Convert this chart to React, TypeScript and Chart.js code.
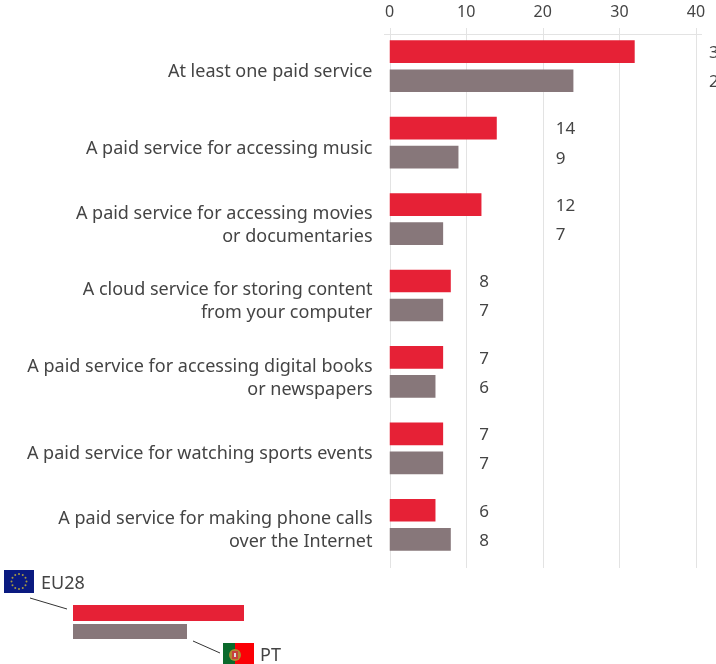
import React, { useEffect, useRef } from "react";
import { Chart, registerables } from "chart.js";

Chart.register(...registerables);

const categories: (string | string[])[] = [
  "At least one paid service",
  "A paid service for accessing music",
  ["A paid service for accessing movies", "or documentaries"],
  ["A cloud service for storing content", "from your computer"],
  ["A paid service for accessing digital books", "or newspapers"],
  "A paid service for watching sports events",
  ["A paid service for making phone calls", "over the Internet"],
];
const eu28 = [32, 14, 12, 8, 7, 7, 6];
const pt = [24, 9, 7, 7, 6, 7, 8];
const xTicks = [0, 10, 20, 30, 40];
const legendEU = "EU28";
const legendPT = "PT";

const RED = "#e62136";
const GREY = "#87777a";
const TEXT = "#444444";
const GRID = "#e3e3e3";
const FONT = "'Noto Sans', sans-serif";

const overlay = {
  id: "overlay",
  beforeDatasetsDraw(chart: any) {
    const ctx = chart.ctx;
    const x = chart.scales.x;
    ctx.save();
    ctx.strokeStyle = GRID;
    ctx.lineWidth = 1;
    for (const t of xTicks) {
      const px = Math.round(x.getPixelForValue(t)) + 0.5;
      ctx.beginPath();
      ctx.moveTo(px, 28);
      ctx.lineTo(px, 568);
      ctx.stroke();
    }
    ctx.beginPath();
    ctx.moveTo(384, 34.5);
    ctx.lineTo(702, 34.5);
    ctx.stroke();
    ctx.restore();
  },
  afterDatasetsDraw(chart: any) {
    const ctx = chart.ctx;
    const x = chart.scales.x;
    ctx.save();
    ctx.fillStyle = TEXT;
    ctx.font = `17px ${FONT}`;
    ctx.textAlign = "left";
    ctx.textBaseline = "middle";
    chart.data.datasets.forEach((ds: any, di: number) => {
      const meta = chart.getDatasetMeta(di);
      ds.data.forEach((v: number, i: number) => {
        const top = Math.max(eu28[i], pt[i]);
        const bucket = Math.ceil(top / 10) * 10;
        ctx.fillText(String(v), x.getPixelForValue(bucket + 1.7), meta.data[i].y + 1.5);
      });
    });

    // legend key
    ctx.fillStyle = RED;
    ctx.fillRect(73, 605, 171, 16);
    ctx.fillStyle = GREY;
    ctx.fillRect(73, 624, 114, 15);
    ctx.strokeStyle = "#333";
    ctx.lineWidth = 1;
    ctx.beginPath();
    ctx.moveTo(30, 598);
    ctx.lineTo(67, 609);
    ctx.moveTo(193, 641);
    ctx.lineTo(220, 653);
    ctx.stroke();

    // EU flag
    ctx.fillStyle = "#0a1a80";
    ctx.fillRect(4, 570, 30, 23);
    ctx.fillStyle = "#a89a40";
    for (let i = 0; i < 12; i++) {
      const a = (i * Math.PI) / 6;
      ctx.beginPath();
      ctx.arc(19 + 7.5 * Math.cos(a), 581.5 + 7.5 * Math.sin(a), 1, 0, Math.PI * 2);
      ctx.fill();
    }
    // PT flag
    ctx.fillStyle = "#0b6a2c";
    ctx.fillRect(223, 643, 12, 21);
    ctx.fillStyle = "#fb0006";
    ctx.fillRect(235, 643, 19, 21);
    ctx.fillStyle = "#b08a30";
    ctx.beginPath();
    ctx.arc(235, 655, 6, 0, Math.PI * 2);
    ctx.fill();
    ctx.fillStyle = "#c8403c";
    ctx.fillRect(232, 651, 6, 8);
    ctx.fillStyle = "#ddd";
    ctx.fillRect(234, 653, 2, 4);

    ctx.fillStyle = TEXT;
    ctx.font = `18px ${FONT}`;
    ctx.fillText(legendEU, 41, 584);
    ctx.fillText(legendPT, 260, 656);
    ctx.restore();
  },
};

export default function App() {
  const ref = useRef<HTMLCanvasElement>(null);
  useEffect(() => {
    document.body.style.margin = "0";
    const chart = new Chart(ref.current!, {
      type: "bar",
      data: {
        labels: categories as any,
        datasets: [
          { label: legendEU, data: eu28, backgroundColor: RED },
          { label: legendPT, data: pt, backgroundColor: GREY },
        ],
      },
      options: {
        indexAxis: "y",
        animation: false,
        responsive: false,
        layout: { padding: { left: 0, top: 0, right: 20, bottom: 101 } },
        datasets: { bar: { categoryPercentage: 0.76, barPercentage: 0.78 } },
        plugins: { legend: { display: false }, tooltip: { enabled: false } },
        scales: {
          x: {
            position: "top",
            min: 0,
            max: 40,
            afterFit: (s: any) => { s.height = 28; s.paddingLeft = 0; s.paddingRight = 0; },
            afterBuildTicks: (s: any) => { s.ticks = xTicks.map((value) => ({ value })); },
            grid: { display: false, drawTicks: false },
            border: { display: false },
            ticks: { color: TEXT, font: { family: FONT, size: 16 }, padding: 5.5, maxRotation: 0 },
          },
          y: {
            afterFit: (s: any) => { s.width = 389.5; s.paddingTop = 0; s.paddingBottom = 0; },
            grid: { display: false, drawTicks: false },
            border: { display: false },
            ticks: {
              color: TEXT,
              padding: 17,
              autoSkip: false,
              labelOffset: 6,
              font: { family: FONT, size: 18, lineHeight: 1.28 },
            },
          },
        },
      },
      plugins: [overlay],
    } as any);
    return () => chart.destroy();
  }, []);
  return <canvas ref={ref} width={716} height={664} style={{ display: "block" }} />;
}
